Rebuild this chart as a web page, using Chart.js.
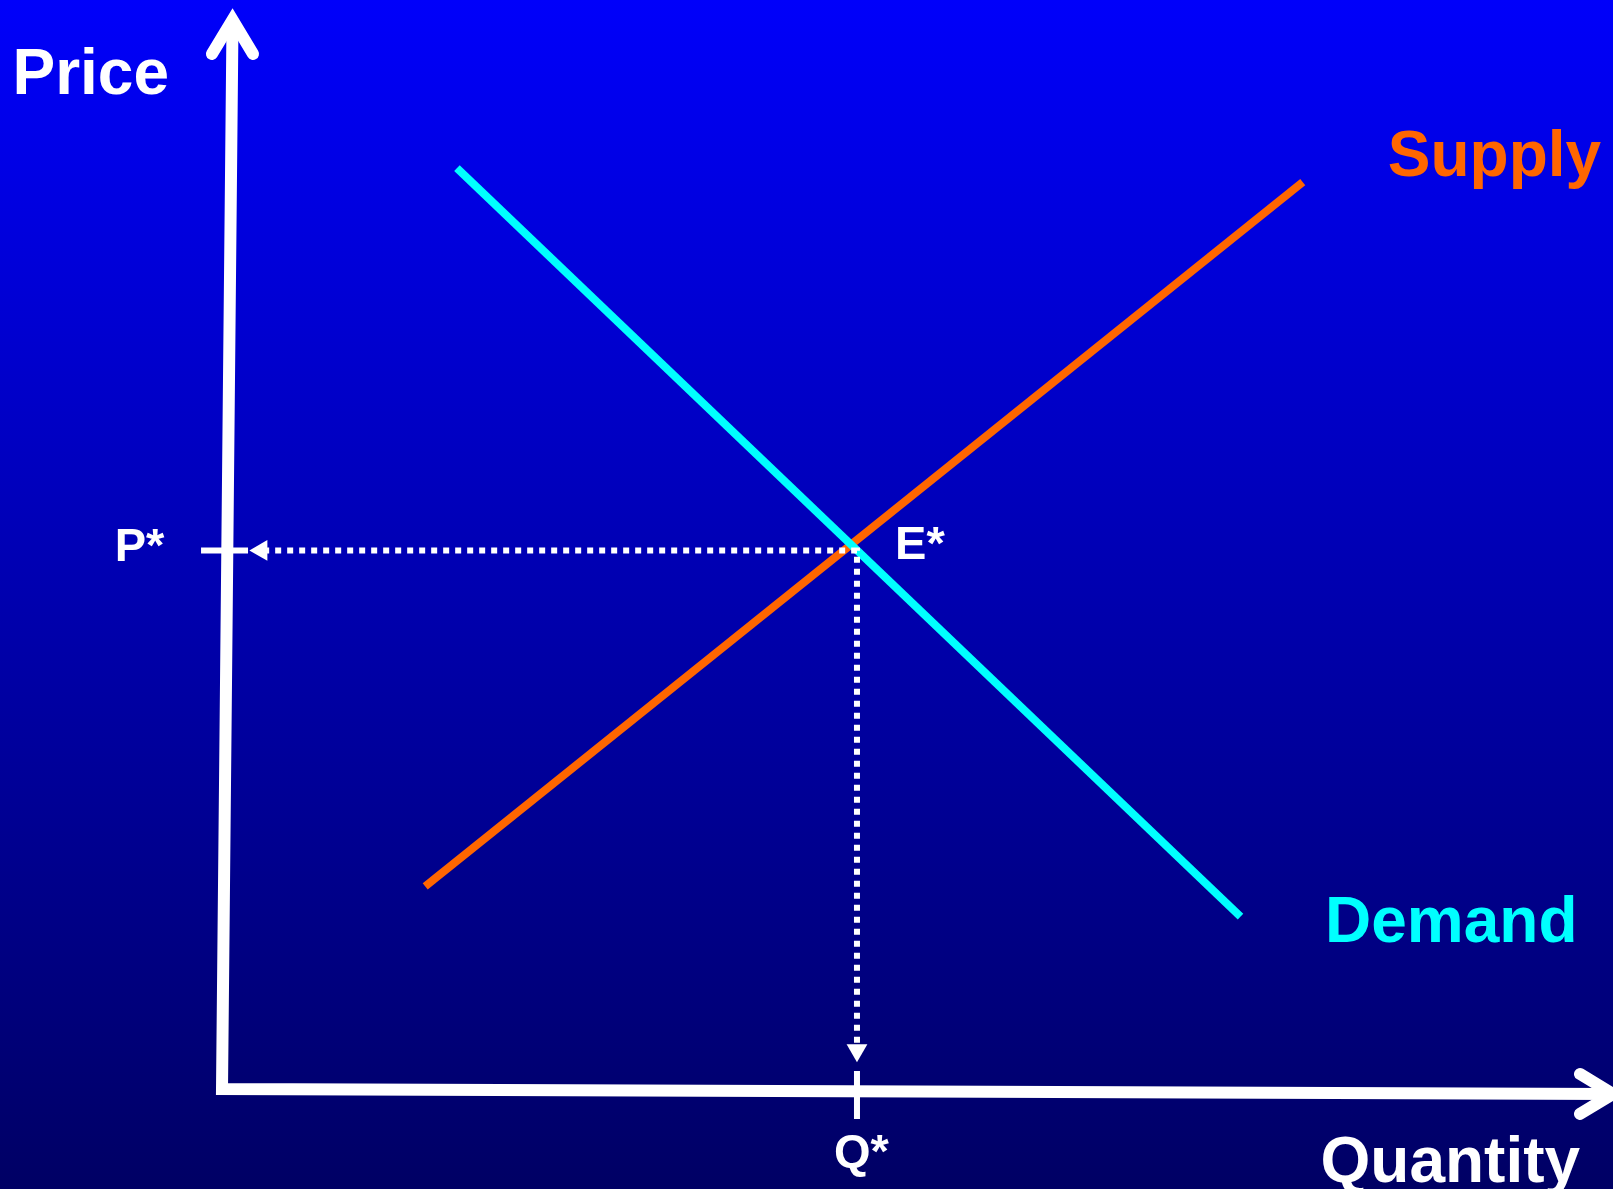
<!DOCTYPE html>
<html lang="en">
<head>
<meta charset="utf-8">
<title>Supply and Demand</title>
<script src="https://cdn.jsdelivr.net/npm/chart.js"></script>
<style>
    html, body { margin: 0; padding: 0; overflow: hidden; background: #000066; }
    #wrap { width: 1613px; height: 1189px; }
</style>
</head>
<body>
<div id="wrap"><canvas id="equilibrio" width="1613" height="1189"></canvas></div>
<script>
// Curvas (cantidad, precio)
const demandQ = [18.5, 80.2];
const demandP = [85.5, 16.0];
const supplyQ = [16.0, 85.1];
const supplyP = [18.8, 84.2];

// Equilibrio y guías punteadas
const eqQ = 50;
const eqP = 50;
const guideQ = [3.5, eqQ, eqQ];
const guideP = [eqP, eqP, 4.3];
const arrowQ = [3.1, eqQ];
const arrowP = [eqP, 3.6];

// Ejes (ligeramente inclinados como en el original)
const axisQ = [0.83, 0, 109.53];
const axisP = [99.26, 0, -0.46];
const priceHeadQ = [-0.79, 0.83, 2.44];
const priceHeadP = [96.1, 99.26, 96.1];
const qtyHeadQ = [106.93, 109.53, 106.93];
const qtyHeadP = [1.39, -0.46, -2.32];
const pTickQ = [-1.65, 2.05];
const pTickP = [eqP, eqP];
const qTickQ = [eqQ, eqQ];
const qTickP = [1.67, -2.79];

// Textos
const axisTitles = ['Price', 'Quantity'];
const curveNames = ['Supply', 'Demand'];
const markNames = ['P*', 'Q*', 'E*'];

function toPoints(qs, ps) {
    return qs.map(function (q, i) { return { x: q, y: ps[i] }; });
}

function lineSet(qs, ps, color, width, extra) {
    return Object.assign({
        data: toPoints(qs, ps),
        showLine: true,
        borderColor: color,
        borderWidth: width,
        pointRadius: 0,
        clip: false
    }, extra || {});
}

// Fondo degradado
const backgroundPlugin = {
    id: 'fondo',
    beforeDraw: function (chart) {
        const ctx = chart.ctx;
        const g = ctx.createLinearGradient(0, 0, 0, chart.height);
        g.addColorStop(0, '#0000fa');
        g.addColorStop(1, '#000064');
        ctx.save();
        ctx.fillStyle = g;
        ctx.fillRect(0, 0, chart.width, chart.height);
        ctx.restore();
    }
};

// Etiquetas de texto
const labelsPlugin = {
    id: 'etiquetas',
    afterDatasetsDraw: function (chart) {
        const ctx = chart.ctx;
        const x = chart.scales.x;
        const y = chart.scales.y;
        const big = 'bold 64px "Liberation Sans", Arial, sans-serif';
        const small = 'bold 47px "Liberation Sans", Arial, sans-serif';
        const items = [
            { t: axisTitles[0], q: -16.5, p: 92.4, f: big, c: '#ffffff', a: 'left' },
            { t: axisTitles[1], q: 86.5, p: -8.64, f: big, c: '#ffffff', a: 'left' },
            { t: curveNames[0], q: 91.8, p: 84.8, f: big, c: '#ff6600', a: 'left' },
            { t: curveNames[1], q: 86.85, p: 13.6, f: big, c: '#00ffff', a: 'left' },
            { t: markNames[0], q: -8.45, p: 49.0, f: small, c: '#ffffff', a: 'left' },
            { t: markNames[1], q: 50.35, p: -7.24, f: small, c: '#ffffff', a: 'center' },
            { t: markNames[2], q: 53.0, p: 49.2, f: small, c: '#ffffff', a: 'left' }
        ];
        ctx.save();
        ctx.textBaseline = 'alphabetic';
        items.forEach(function (it) {
            ctx.font = it.f;
            ctx.fillStyle = it.c;
            ctx.textAlign = it.a;
            ctx.fillText(it.t, x.getPixelForValue(it.q), y.getPixelForValue(it.p));
        });
        ctx.restore();
    }
};

document.addEventListener('DOMContentLoaded', function () {
    const ctx = document.getElementById('equilibrio').getContext('2d');

    const datasets = [
        lineSet(axisQ, axisP, '#ffffff', 12, { order: 7, borderJoinStyle: 'miter', borderCapStyle: 'butt' }),
        lineSet(priceHeadQ, priceHeadP, '#ffffff', 12, { order: 7, borderJoinStyle: 'miter', borderCapStyle: 'round' }),
        lineSet(qtyHeadQ, qtyHeadP, '#ffffff', 12, { order: 7, borderJoinStyle: 'miter', borderCapStyle: 'round' }),
        lineSet(pTickQ, pTickP, '#ffffff', 6, { order: 6 }),
        lineSet(qTickQ, qTickP, '#ffffff', 6, { order: 6 }),
        lineSet(supplyQ, supplyP, '#ff6600', 8, { order: 5, borderCapStyle: 'butt' }),
        lineSet(demandQ, demandP, '#00ffff', 8, { order: 4, borderCapStyle: 'butt' }),
        lineSet(guideQ.slice().reverse(), guideP.slice().reverse(), '#ffffff', 6, { order: 3, borderDash: [6, 6] }),
        {
            data: toPoints(arrowQ, arrowP),
            showLine: false,
            pointStyle: 'triangle',
            pointRadius: 12,
            pointRotation: [-90, 180],
            pointBackgroundColor: '#ffffff',
            pointBorderWidth: 0,
            order: 2,
            clip: false
        }
    ];

    new Chart(ctx, {
        type: 'scatter',
        data: { datasets: datasets },
        options: {
            responsive: false,
            animation: false,
            devicePixelRatio: 1,
            layout: { padding: 0, autoPadding: false },
            elements: { line: { tension: 0 } },
            plugins: {
                legend: { display: false },
                tooltip: { enabled: false }
            },
            scales: {
                x: { type: 'linear', min: -17.48, max: 109.53, display: false },
                y: { type: 'linear', min: -9.29, max: 101.11, display: false }
            }
        },
        plugins: [backgroundPlugin, labelsPlugin]
    });
});
</script>
</body>
</html>
